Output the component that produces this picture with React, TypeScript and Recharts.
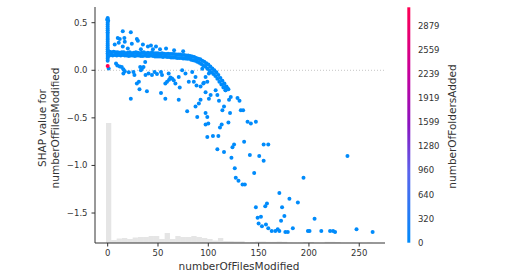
import {
  ComposedChart,
  BarChart,
  Bar,
  Scatter,
  XAxis,
  YAxis,
  ReferenceArea,
  ReferenceLine,
} from "recharts";

const BLUE = "#008bfb";
const RED = "#ff0052";
const AXIS_COLOR = "#333333";
const FONT = "'DejaVu Sans', sans-serif";

const X_TICKS = [0, 50, 100, 150, 200, 250];
const Y_TICKS = [0.5, 0, -0.5, -1, -1.5];
const Y_DOMAIN = [-1.815, 0.665];
const COLOR_TICKS = [0, 320, 640, 960, 1280, 1599, 1919, 2239, 2559, 2879];
const COLOR_MAX = 3127;

// histogram of numberOfFilesModified (50 bins), drawn on a twin scale
// where the full plot height stands for HIST_TOTAL samples
const HIST_START = -1.7;
const HIST_WIDTH = 5.3;
const HIST_TOTAL = 2360;
const histCounts = [
  1200, 30, 45, 50, 40, 55, 60, 60, 70, 70, 40, 100, 40, 70, 60, 60, 70, 60,
  50, 40, 25, 50, 20, 20, 18, 18, 5, 8, 15, 15, 12, 12, 15, 12, 4, 2, 3, 10,
  10, 2, 2, 12, 12, 10, 2, 2, 3, 2, 0, 3,
];

// SHAP points, [numberOfFilesModified, shap value]
const zeroColumn = [
  [0, 0.55], [0, 0.54], [-0.5, 0.53], [0.5, 0.52], [0, 0.5], [0, 0.48],
  [0, 0.46], [0, 0.44], [0, 0.42], [0, 0.4], [0, 0.38], [0, 0.36],
  [0, 0.34], [0, 0.32], [0, 0.3], [0, 0.28], [0, 0.26], [0, 0.24],
  [0, 0.22], [0, 0.2], [0, 0.18], [0, 0.16], [0, 0.14], [0, 0.12],
  [0, 0.1], [1, 0.02],
];

const bandUpper = [
  [2, 0.195], [4, 0.19], [6, 0.195], [8, 0.19], [10, 0.19], [12, 0.185],
  [14, 0.19], [16, 0.19], [18, 0.18], [20, 0.185], [22, 0.19], [24, 0.18],
  [26, 0.185], [28, 0.19], [30, 0.185], [32, 0.18], [34, 0.185], [36, 0.19],
  [38, 0.18], [40, 0.185], [42, 0.18], [44, 0.19], [46, 0.18], [48, 0.18],
  [50, 0.18], [52, 0.175], [54, 0.18], [56, 0.175], [58, 0.17], [60, 0.175],
  [62, 0.17], [64, 0.17], [66, 0.17], [68, 0.165], [70, 0.165], [72, 0.165],
  [74, 0.16], [76, 0.16], [78, 0.155], [80, 0.155], [82, 0.15], [84, 0.145],
  [86, 0.14], [88, 0.13], [90, 0.12], [92, 0.115], [94, 0.1], [96, 0.09],
  [98, 0.075], [100, 0.06], [102, 0.04], [104, 0.02], [106, 0.0],
  [108, -0.02], [110, -0.05], [112, -0.08], [114, -0.11], [116, -0.14],
  [118, -0.17], [120, -0.2],
];

const bandLower = [
  [1, 0.15], [3, 0.16], [5, 0.155], [7, 0.16], [9, 0.155], [11, 0.16],
  [13, 0.155], [15, 0.16], [17, 0.155], [19, 0.155], [21, 0.15], [23, 0.155],
  [25, 0.155], [27, 0.15], [29, 0.155], [31, 0.155], [33, 0.15], [35, 0.15],
  [37, 0.155], [39, 0.15], [41, 0.15], [43, 0.155], [45, 0.15], [47, 0.145],
  [49, 0.145], [51, 0.145], [53, 0.145], [55, 0.14], [57, 0.145], [59, 0.14],
  [61, 0.14], [63, 0.135], [65, 0.135], [67, 0.135], [69, 0.13], [71, 0.13],
  [73, 0.13], [75, 0.125], [77, 0.125], [79, 0.12], [81, 0.12], [83, 0.11],
  [85, 0.105], [87, 0.1], [89, 0.09], [91, 0.08], [93, 0.065], [95, 0.05],
  [97, 0.04], [99, 0.02], [101, 0.0], [103, -0.02], [105, -0.04],
  [107, -0.06], [109, -0.09], [111, -0.12], [113, -0.15], [115, -0.18],
  [117, -0.21],
];

const aboveBand = [
  [7, 0.27], [10, 0.34], [11, 0.29], [12, 0.33], [15, 0.41], [15, 0.25],
  [16.6, 0.34], [17, 0.3], [23, 0.4], [24, 0.28], [29, 0.33], [30, 0.31],
  [35, 0.27], [40, 0.25], [43, 0.26], [48, 0.25], [20, 0.23], [33, 0.22],
  [52, 0.22], [58, 0.23], [66, 0.21], [75, 0.2], [45, 0.22],
];

const belowBand = [
  [8.3, 0.07], [9.6, 0.05], [12, 0.04], [14, 0.035], [15.6, 0.01],
  [15.6, -0.035], [17, -0.01], [21, -0.02], [25.6, -0.017], [26.6, -0.05],
  [23, -0.3], [29, -0.14], [31.6, -0.2], [31, -0.12], [32.3, 0.035], [33, 0],
  [34, 0.015], [35.6, 0.035], [37.3, 0.087], [37.6, -0.05], [39, -0.22],
  [40.6, -0.035], [44, -0.05], [46.6, -0.017], [49, -0.04], [53, -0.018],
  [54, -0.05], [53, -0.24], [57.3, -0.3], [57.3, -0.14], [59, -0.12],
  [60.6, -0.035], [61, -0.1], [62.3, -0.077], [64, -0.087], [65.6, -0.105],
  [67.3, -0.14], [70.6, -0.07], [71.6, -0.18], [70.6, -0.31], [74, 0],
  [77.3, -0.035], [79, -0.43], [80.6, -0.12], [84, -0.017], [85.6, -0.12],
  [87.3, -0.07], [88.3, -0.16], [87.3, -0.38], [90.6, -0.35], [92.3, -0.31],
  [92.3, -0.17], [94, 0.017], [95, -0.14], [95.6, -0.13], [97.3, -0.07],
  [99, -0.12], [100.6, -0.035], [97.3, -0.23], [100.6, -0.3], [102.3, -0.26],
  [107.3, -0.21], [109, -0.26], [110.6, -0.32], [115.6, -0.175],
  [117.3, -0.21], [119, -0.19], [120.6, -0.31], [122.3, -0.28], [129, -0.29],
  [131, -0.32],
];

const midTail = [
  [89, -0.49], [97.3, -0.45], [99, -0.49], [97.3, -0.57], [100, -0.56],
  [111.6, -0.6], [113.3, -0.57], [114, -0.42], [115.6, -0.38], [120, -0.55],
  [121.6, -0.45], [132.3, -0.42], [134.6, -0.42], [139, -0.54],
  [142.3, -0.56], [147.3, -0.54], [99, -0.7], [104.6, -0.69], [110, -0.69],
  [109, -0.83], [115.6, -0.86], [124, -0.81], [125.6, -0.78], [123, -0.92],
  [126.3, -1.03], [135.6, -0.75], [141.3, -0.89], [150.6, -0.9], [155, -0.95],
  [155, -0.78], [159.6, -0.78], [238.3, -0.9],
];

const lowTail = [
  [127.3, -1.13], [130, -1.16], [134, -1.2], [136.3, -1.2], [145.6, -1.08],
  [194.6, -1.13], [170.6, -1.29], [180.6, -1.35], [189, -1.39],
  [147.3, -1.44], [156.6, -1.43], [158.3, -1.4], [173.3, -1.44], [149, -1.55],
  [152.3, -1.54], [175.6, -1.53], [172.3, -1.58], [205.6, -1.56], [150, -1.61],
  [153.3, -1.64], [157.3, -1.62], [159.6, -1.66], [163, -1.69], [166.6, -1.69],
  [169, -1.67], [170.6, -1.69], [176.6, -1.7], [179, -1.7], [184, -1.66],
  [199, -1.69], [200.6, -1.69], [212.3, -1.69], [221, -1.69], [224, -1.69],
  [226, -1.7], [247.3, -1.67], [263.3, -1.7],
];

// points with many folders added (red end of the colour bar)
const manyFolders = [[0, 0.045]];

const toPoints = (rows: number[][]) => rows.map(([x, y]) => ({ x, y }));

const lowFolderPoints = toPoints([
  ...zeroColumn,
  ...bandUpper,
  ...bandLower,
  ...aboveBand,
  ...belowBand,
  ...midTail,
  ...lowTail,
]);
const highFolderPoints = toPoints(manyFolders);

// twin scale: counts -> shap-axis units
const histToY = (count: number) =>
  Y_DOMAIN[0] + (count / HIST_TOTAL) * (Y_DOMAIN[1] - Y_DOMAIN[0]);

const histBins = histCounts.map((count, i) => ({
  x1: HIST_START + i * HIST_WIDTH,
  x2: HIST_START + (i + 1) * HIST_WIDTH,
  count,
}));

const colorBarData = [{ name: "numberOfFoldersAdded", value: COLOR_MAX }];

const TICK_STYLE = { fill: AXIS_COLOR, fontSize: 8.5 };

const fmtY = (v: number) => v.toFixed(1).replace("-", "\u2212");

const dot = (color: string) => (props: any) => (
  <circle cx={props.cx} cy={props.cy} r={2} fill={color} />
);

function YLabel({ viewBox }: any) {
  const cy = viewBox.y + viewBox.height / 2 + 3;
  const x1 = viewBox.x + 11;
  const x2 = viewBox.x + 24;
  return (
    <g fill={AXIS_COLOR} fontSize={10.5} textAnchor="middle">
      <text x={x1} y={cy} transform={`rotate(-90 ${x1} ${cy})`}>
        SHAP value for
      </text>
      <text x={x2} y={cy} transform={`rotate(-90 ${x2} ${cy})`}>
        numberOfFilesModified
      </text>
    </g>
  );
}

function XLabel({ viewBox }: any) {
  return (
    <text
      x={viewBox.x + viewBox.width / 2 - 1}
      y={viewBox.y + 27}
      fill={AXIS_COLOR}
      fontSize={10.5}
      textAnchor="middle"
    >
      numberOfFilesModified
    </text>
  );
}

function ColorLabel({ viewBox }: any) {
  const x = viewBox.x + 45;
  const cy = viewBox.y + viewBox.height / 2 + 1.5;
  return (
    <text
      x={x}
      y={cy}
      transform={`rotate(-90 ${x} ${cy})`}
      fill={AXIS_COLOR}
      fontSize={10.5}
      textAnchor="middle"
    >
      numberOfFoldersAdded
    </text>
  );
}

export default function App() {
  return (
    <div
      style={{
        position: "absolute",
        left: 0,
        top: 0,
        width: 512,
        height: 278,
        background: "#fff",
        fontFamily: FONT,
      }}
    >
      <ComposedChart
        width={512}
        height={278}
        margin={{ top: 7, right: 127, bottom: 15, left: 35 }}
      >
        <XAxis
          type="number"
          dataKey="x"
          domain={[-12.6, 275.6]}
          ticks={X_TICKS}
          interval={0}
          height={20}
          tick={TICK_STYLE}
          tickSize={3.5}
          tickMargin={3.5}
          stroke={AXIS_COLOR}
          allowDataOverflow
          label={{ content: XLabel }}
        />
        <YAxis
          type="number"
          dataKey="y"
          domain={Y_DOMAIN}
          ticks={Y_TICKS}
          interval={0}
          width={60}
          tick={TICK_STYLE}
          tickSize={3.5}
          tickMargin={4}
          tickFormatter={fmtY}
          stroke={AXIS_COLOR}
          allowDataOverflow
          label={{ content: YLabel }}
        />
        {histBins.map((b, i) =>
          b.count > 0 ? (
            <ReferenceArea
              key={i}
              x1={b.x1}
              x2={b.x2}
              y1={Y_DOMAIN[0]}
              y2={histToY(b.count)}
              fill="#000000"
              fillOpacity={0.1}
              stroke="none"
              ifOverflow="visible"
            />
          ) : null
        )}
        <ReferenceLine
          y={0}
          stroke="#aaaaaa"
          strokeWidth={0.7}
          strokeDasharray="1 2"
        />
        <Scatter
          data={lowFolderPoints}
          fill={BLUE}
          shape={dot(BLUE)}
          isAnimationActive={false}
        />
        <Scatter
          data={highFolderPoints}
          fill={RED}
          shape={dot(RED)}
          isAnimationActive={false}
        />
      </ComposedChart>

      <div style={{ position: "absolute", left: 400, top: 0 }}>
        <BarChart
          width={80}
          height={278}
          data={colorBarData}
          margin={{ top: 7.3, right: 0, bottom: 35.3, left: 7.3 }}
          barCategoryGap={0}
        >
          <defs>
            <linearGradient id="cbarGradient" x1="0" y1="1" x2="0" y2="0">
              <stop offset="0%" stopColor={BLUE} />
              <stop offset="30%" stopColor="#5a64ec" />
              <stop offset="50%" stopColor="#8a14c0" />
              <stop offset="72%" stopColor="#c6009c" />
              <stop offset="100%" stopColor={RED} />
            </linearGradient>
          </defs>
          <XAxis dataKey="name" hide />
          <YAxis
            orientation="right"
            type="number"
            domain={[0, COLOR_MAX]}
            ticks={COLOR_TICKS}
            interval={0}
            width={69.4}
            axisLine={false}
            tickLine={false}
            tickSize={0}
            tickMargin={7.3}
            tick={TICK_STYLE}
            label={{ content: ColorLabel }}
          />
          <Bar
            dataKey="value"
            fill="url(#cbarGradient)"
            isAnimationActive={false}
          />
        </BarChart>
      </div>
    </div>
  );
}
